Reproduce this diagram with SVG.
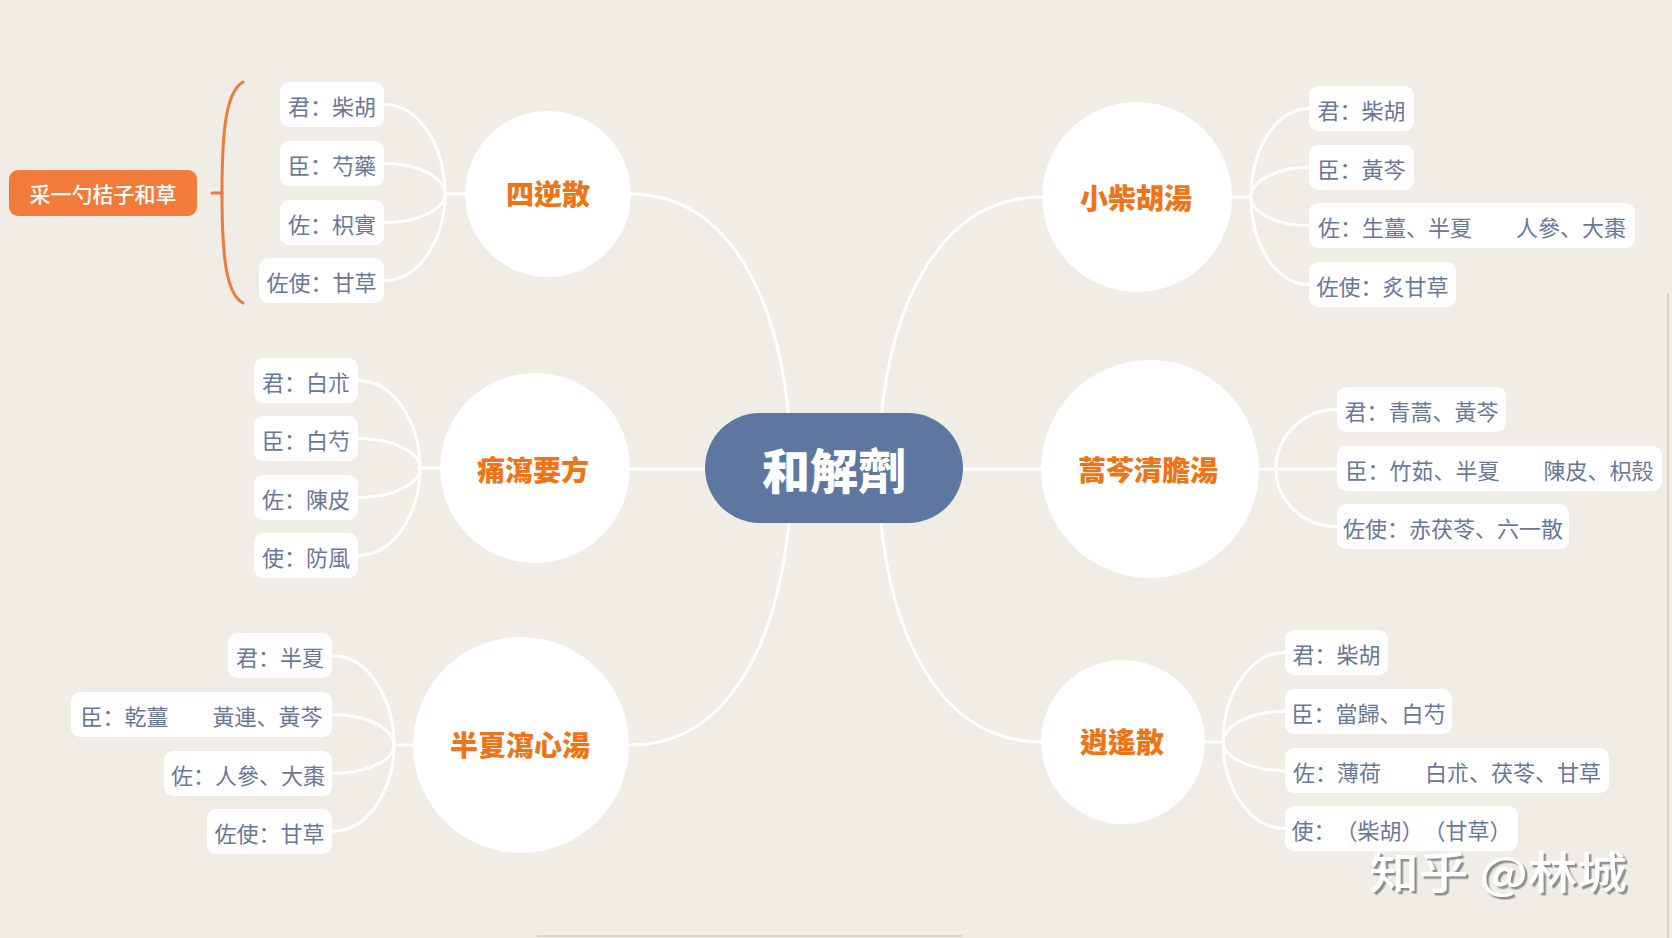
<svg xmlns="http://www.w3.org/2000/svg" width="1672" height="938" viewBox="0 0 1672 938">
  <defs>
    <style>
      .bg { fill: #f0ece6; }
      .conn { fill: none; stroke: #ffffff; stroke-width: 3; stroke-linecap: round; }
      .leaf rect { fill: #ffffff; }
      .leaf text { font-family: "Noto Sans CJK SC", "Noto Sans CJK TC", sans-serif; font-size: 22px; fill: #6a7898; text-anchor: middle; dominant-baseline: central; text-spacing-trim: space-all; font-feature-settings: "chws" 0, "halt" 0; }
      .topic circle { fill: #ffffff; }
      .topic text { font-family: "Noto Sans CJK TC", "Noto Sans CJK SC", sans-serif; font-size: 28px; font-weight: 900; fill: #ef7417; text-anchor: middle; dominant-baseline: central; }
      .root text { font-family: "Noto Sans CJK TC", "Noto Sans CJK SC", sans-serif; font-size: 48px; font-weight: 900; fill: #ffffff; text-anchor: middle; dominant-baseline: central; }
      .note text { font-family: "Noto Sans CJK SC", sans-serif; font-size: 21px; font-weight: 500; fill: #ffffff; text-anchor: middle; dominant-baseline: central; }
      .brace { fill: none; stroke: #ee7a40; stroke-width: 3; stroke-linecap: round; }
      .wm { font-family: "Noto Sans CJK SC", sans-serif; font-size: 44px; font-weight: 500; fill: #ffffff; dominant-baseline: central; }
    </style>
    <filter id="shadow" x="-10%" y="-20%" width="130%" height="150%">
      <feDropShadow dx="2.5" dy="2.5" stdDeviation="0.6" flood-color="#8f8f8f" flood-opacity="1"/>
    </filter>
  </defs>

  <rect class="bg" x="0" y="0" width="1672" height="938"/>
  <line x1="1668" y1="293" x2="1668" y2="938" stroke="#d6d3cf" stroke-width="2"/>
  <line x1="537" y1="936" x2="962" y2="936" stroke="#d8d5d1" stroke-width="2"/>

  <g id="connectors">
    <!-- root to topics -->
    <path class="conn" d="M630,194 C730,194 780,300 790,430"/>
    <path class="conn" d="M1042,197 C942,197 890,300 880,430"/>
    <path class="conn" d="M630,469 H710"/>
    <path class="conn" d="M958,469 H1042"/>
    <path class="conn" d="M630,745 C730,745 780,640 790,510"/>
    <path class="conn" d="M1042,742 C942,742 890,640 880,510"/>

    <!-- 四逆散 leaves -->
    <path class="conn" d="M384,104.5 C421,104.5 445,149 445,194"/>
    <path class="conn" d="M384,163.5 C421,163.5 445,179 445,194"/>
    <path class="conn" d="M384,222.5 C421,222.5 445,208 445,194"/>
    <path class="conn" d="M384,280.5 C421,280.5 445,237 445,194"/>
    <path class="conn" d="M445,194 H470"/>

    <!-- 痛瀉要方 leaves -->
    <path class="conn" d="M358,380.5 C395,380.5 420,424 420,468"/>
    <path class="conn" d="M358,438.5 C395,438.5 420,453 420,468"/>
    <path class="conn" d="M358,497.5 C395,497.5 420,483 420,468"/>
    <path class="conn" d="M358,555.5 C395,555.5 420,512 420,468"/>
    <path class="conn" d="M420,468 H445"/>

    <!-- 半夏瀉心湯 leaves -->
    <path class="conn" d="M332,655.5 C369,655.5 394,700 394,745"/>
    <path class="conn" d="M332,714.5 C369,714.5 394,730 394,745"/>
    <path class="conn" d="M332,773.5 C369,773.5 394,759 394,745"/>
    <path class="conn" d="M332,831.5 C369,831.5 394,788 394,745"/>
    <path class="conn" d="M394,745 H418"/>

    <!-- 小柴胡湯 leaves -->
    <path class="conn" d="M1228,197 H1251"/>
    <path class="conn" d="M1251,197 C1251,153 1274,108.5 1309,108.5"/>
    <path class="conn" d="M1251,197 C1251,182 1274,167.5 1309,167.5"/>
    <path class="conn" d="M1251,197 C1251,211 1274,225.5 1309,225.5"/>
    <path class="conn" d="M1251,197 C1251,241 1274,284.5 1309,284.5"/>

    <!-- 蒿芩清膽湯 leaves -->
    <path class="conn" d="M1255,469 H1337"/>
    <path class="conn" d="M1276,469 C1276,439 1300,409.5 1337,409.5"/>
    <path class="conn" d="M1276,469 C1276,498 1300,526.5 1337,526.5"/>

    <!-- 逍遙散 leaves -->
    <path class="conn" d="M1200,742 H1223"/>
    <path class="conn" d="M1223,742 C1223,697 1248,652.5 1285,652.5"/>
    <path class="conn" d="M1223,742 C1223,727 1248,711.5 1285,711.5"/>
    <path class="conn" d="M1223,742 C1223,756 1248,770.5 1285,770.5"/>
    <path class="conn" d="M1223,742 C1223,785 1248,828.5 1285,828.5"/>

    <!-- brace -->
    <path class="brace" d="M243,82 C226,92 222,130 222,193 C222,256 226,294 243,303"/>
    <path class="brace" d="M212,193 H222"/>
  </g>

  <g id="root" class="root">
    <rect x="705" y="413" width="258" height="110" rx="55" fill="#5e77a1"/>
    <text x="834" y="468">和解劑</text>
  </g>

  <g id="topic-sini" class="topic">
    <circle cx="548" cy="194" r="83"/>
    <text x="548" y="193">四逆散</text>
  </g>
  <g id="topic-tongxie" class="topic">
    <circle cx="535" cy="468" r="95"/>
    <text x="533" y="469">痛瀉要方</text>
  </g>
  <g id="topic-banxia" class="topic">
    <circle cx="521" cy="745" r="108"/>
    <text x="520" y="744">半夏瀉心湯</text>
  </g>
  <g id="topic-xiaochaihu" class="topic">
    <circle cx="1137" cy="197" r="95"/>
    <text x="1136" y="197">小柴胡湯</text>
  </g>
  <g id="topic-haoqin" class="topic">
    <circle cx="1150" cy="469" r="109"/>
    <text x="1148" y="469">蒿芩清膽湯</text>
  </g>
  <g id="topic-xiaoyao" class="topic">
    <circle cx="1123" cy="742" r="82"/>
    <text x="1122" y="741">逍遙散</text>
  </g>

  <g id="note-mnemonic" class="note">
    <rect x="9" y="170" width="188" height="46" rx="9" fill="#f27b3a"/>
    <text x="103" y="193">采一勺桔子和草</text>
  </g>

  <!-- 四逆散 leaves -->
  <g id="sini-1" class="leaf"><rect x="280" y="82" width="104" height="45" rx="9"/><text x="332" y="104.5">君：柴胡</text></g>
  <g id="sini-2" class="leaf"><rect x="280" y="141" width="104" height="45" rx="9"/><text x="332" y="163.5">臣：芍藥</text></g>
  <g id="sini-3" class="leaf"><rect x="280" y="200" width="104" height="45" rx="9"/><text x="332" y="222.5">佐：枳實</text></g>
  <g id="sini-4" class="leaf"><rect x="259" y="258" width="125" height="45" rx="9"/><text x="321.5" y="280.5">佐使：甘草</text></g>

  <!-- 痛瀉要方 leaves -->
  <g id="tongxie-1" class="leaf"><rect x="254" y="358" width="104" height="45" rx="9"/><text x="306" y="380.5">君：白朮</text></g>
  <g id="tongxie-2" class="leaf"><rect x="254" y="416" width="104" height="45" rx="9"/><text x="306" y="438.5">臣：白芍</text></g>
  <g id="tongxie-3" class="leaf"><rect x="254" y="475" width="104" height="45" rx="9"/><text x="306" y="497.5">佐：陳皮</text></g>
  <g id="tongxie-4" class="leaf"><rect x="254" y="533" width="104" height="45" rx="9"/><text x="306" y="555.5">使：防風</text></g>

  <!-- 半夏瀉心湯 leaves -->
  <g id="banxia-1" class="leaf"><rect x="228" y="633" width="104" height="45" rx="9"/><text x="280" y="655.5">君：半夏</text></g>
  <g id="banxia-2" class="leaf"><rect x="71" y="692" width="261" height="45" rx="9"/><text x="201.5" y="714.5">臣：乾薑　　黃連、黃芩</text></g>
  <g id="banxia-3" class="leaf"><rect x="164" y="751" width="168" height="45" rx="9"/><text x="248" y="773.5">佐：人參、大棗</text></g>
  <g id="banxia-4" class="leaf"><rect x="207" y="809" width="125" height="45" rx="9"/><text x="269.5" y="831.5">佐使：甘草</text></g>

  <!-- 小柴胡湯 leaves -->
  <g id="xiaochaihu-1" class="leaf"><rect x="1309" y="86" width="105" height="45" rx="9"/><text x="1361.5" y="108.5">君：柴胡</text></g>
  <g id="xiaochaihu-2" class="leaf"><rect x="1309" y="145" width="105" height="45" rx="9"/><text x="1361.5" y="167.5">臣：黃芩</text></g>
  <g id="xiaochaihu-3" class="leaf"><rect x="1309" y="203" width="326" height="45" rx="9"/><text x="1472" y="225.5">佐：生薑、半夏　　人參、大棗</text></g>
  <g id="xiaochaihu-4" class="leaf"><rect x="1309" y="262" width="147" height="45" rx="9"/><text x="1382.5" y="284.5">佐使：炙甘草</text></g>

  <!-- 蒿芩清膽湯 leaves -->
  <g id="haoqin-1" class="leaf"><rect x="1337" y="387" width="169" height="45" rx="9"/><text x="1421.5" y="409.5">君：青蒿、黃芩</text></g>
  <g id="haoqin-2" class="leaf"><rect x="1337" y="446" width="325" height="45" rx="9"/><text x="1499.5" y="468.5">臣：竹茹、半夏　　陳皮、枳殼</text></g>
  <g id="haoqin-3" class="leaf"><rect x="1337" y="504" width="232" height="45" rx="9"/><text x="1453" y="526.5">佐使：赤茯苓、六一散</text></g>

  <!-- 逍遙散 leaves -->
  <g id="xiaoyao-1" class="leaf"><rect x="1285" y="630" width="103" height="45" rx="9"/><text x="1336.5" y="652.5">君：柴胡</text></g>
  <g id="xiaoyao-2" class="leaf"><rect x="1285" y="689" width="167" height="45" rx="9"/><text x="1368.5" y="711.5">臣：當歸、白芍</text></g>
  <g id="xiaoyao-3" class="leaf"><rect x="1285" y="748" width="324" height="45" rx="9"/><text x="1447" y="770.5">佐：薄荷　　白朮、茯苓、甘草</text></g>
  <g id="xiaoyao-4" class="leaf"><rect x="1285" y="806" width="233" height="45" rx="9"/><text x="1401.5" y="828.5">使：（柴胡）（甘草）</text></g>

  <g id="watermark">
    <text class="wm" x="1369" y="870" textLength="258" lengthAdjust="spacingAndGlyphs" filter="url(#shadow)">知乎 @林城</text>
  </g>
</svg>
